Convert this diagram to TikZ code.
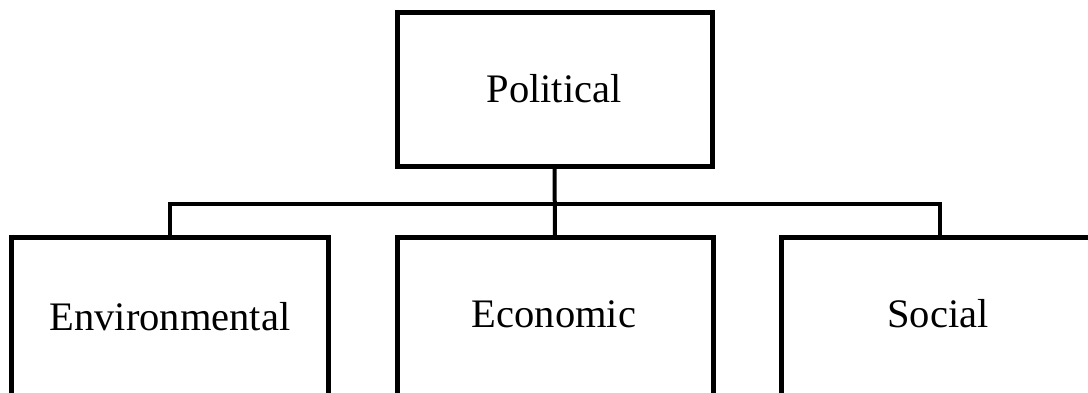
\documentclass[tikz,border=0pt]{standalone}
\usepackage{fontspec}
\setmainfont{Liberation Serif}
\begin{document}
\begin{tikzpicture}[x=1pt,y=-1pt,
  box/.style={draw,line width=5pt,minimum width=317pt,minimum height=154pt,inner sep=0pt,outer sep=0pt,anchor=north west},
  lbl/.style={font=\fontsize{40.5}{44}\selectfont,inner sep=0pt,anchor=base},
  conn/.style={line width=4pt}]
\useasboundingbox (0,0) rectangle (1088,392);
\clip (0,0) rectangle (1088,392);
\node[box,minimum width=315pt] (pol) at (397,12) {};
\node[box,minimum height=170pt] (env) at (11,237) {};
\node[box,minimum height=170pt,minimum width=316pt] (eco) at (397,237) {};
\node[box,minimum height=170pt] (soc) at (781,237) {};
\node[lbl] (tpol) at (554,102) {Political};
\node[lbl] (tenv) at (170,330) {Environmental};
\node[lbl] (teco) at (554,327) {Economic};
\node[lbl] (tsoc) at (938,327) {Social};
\draw[conn] (pol.south) -- (eco.north);
\draw[conn] (env.north) -- ++(0,-33) -| (soc.north);
\end{tikzpicture}
\end{document}
